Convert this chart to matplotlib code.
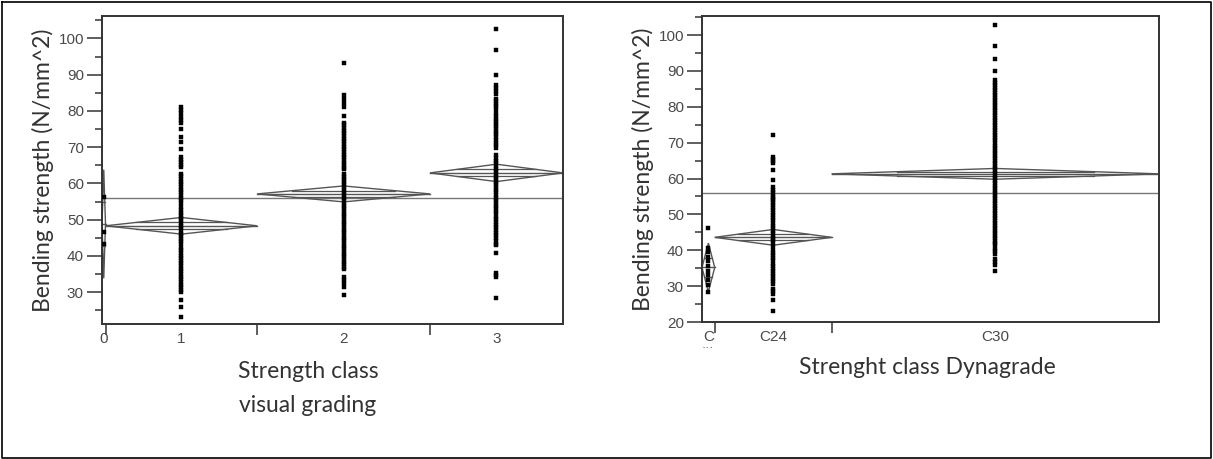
import numpy as np
import matplotlib
matplotlib.use("Agg")
import matplotlib.pyplot as plt
from matplotlib.patches import Polygon
from matplotlib.ticker import FixedLocator, MultipleLocator

# ---- data ----
visual_labels = ["0", "1", "2", "3"]
visual_sizes = [3, 130, 148, 114]
visual_0 = [56.3, 46.6, 43.4]
visual_1 = [81.1, 80.2, 79.3, 78.4, 77.5, 76.6, 74.9, 72.9, 71.5, 69.4,
            67.3, 66.5, 65.8, 65.2, 64.6,
            62.7, 62.0, 61.2, 60.5, 59.8, 59.0, 58.3, 57.5, 56.8, 56.1, 55.4, 54.7,
            53.4, 52.7, 51.9, 51.2, 50.5, 49.8, 49.0, 48.3, 47.6, 46.9, 46.1, 45.4,
            44.7, 44.0, 43.4,
            42.3, 41.6, 40.8, 40.1, 39.4, 38.6, 37.9, 37.2, 36.5, 35.7, 35.0, 34.3,
            33.6, 32.8, 32.1, 31.4, 30.7, 30.1,
            27.8, 25.9, 23.0]
visual_2 = [93.1, 84.4, 83.2, 82.1, 81.1, 78.6,
            76.7, 76.0, 75.2, 74.5, 73.8, 73.0, 72.3, 71.6, 70.8, 70.1, 69.4, 68.6,
            67.9, 67.2, 66.4, 65.7, 65.0, 64.3, 63.9,
            62.6, 61.9, 61.1, 60.4, 59.7, 58.9, 58.2, 57.5, 56.7, 56.0, 55.3, 54.5,
            53.8, 53.1, 52.3, 51.6, 50.9, 50.1, 49.4, 48.7, 47.9, 47.2, 46.5, 45.7,
            45.0, 44.3, 43.5, 42.8, 42.1, 41.3, 40.6, 39.9, 39.1, 38.4, 37.7, 36.9, 36.3,
            34.2, 33.3, 32.4, 31.3, 29.2]
visual_3 = [102.5, 96.8, 89.9,
            87.1, 86.3, 85.6, 84.8, 83.4, 82.7, 82.0, 81.3, 80.4,
            79.3, 78.6, 77.9, 77.1, 76.4, 75.8,
            74.9, 74.2, 73.5, 72.7, 72.0, 71.2, 70.5, 69.7,
            67.8, 67.1, 66.3, 65.6, 64.9, 64.1, 63.4, 62.7, 61.9, 61.2, 60.5, 59.7,
            59.0, 58.3, 57.5, 56.8, 56.1, 55.3, 54.6, 53.9, 53.1, 52.4, 51.7,
            50.8, 50.1, 49.3, 48.6, 47.9, 47.1, 46.4, 45.7,
            44.8, 44.1, 43.4, 43.0,
            40.7, 35.2, 34.6, 34.2, 28.3]
visual_means = [48.8, 48.3, 57.1, 62.9]
visual_ci = [15.0, 2.3, 2.2, 2.4]

dyna_labels = ["C", "C24", "C30"]
dyna_sizes = [11, 101, 283]
dyna_c = [46.3, 40.6, 39.4, 38.1, 36.9, 35.6, 34.2, 33.1, 31.8, 30.4, 28.3]
dyna_c24 = [72.0, 66.0, 65.4, 64.9, 64.3, 62.5, 59.5,
            57.6, 56.9, 56.2, 55.5, 54.8, 54.4,
            53.9, 53.2, 52.5, 51.8, 51.1, 50.4, 49.7, 49.0, 48.3, 47.6, 46.9, 46.2,
            45.5, 44.8, 44.1, 43.4, 42.8, 41.9, 41.1,
            40.0, 39.3, 38.6, 37.9, 37.2,
            36.3, 35.6, 34.9, 34.2, 33.5, 32.8, 32.1, 31.4, 30.7,
            29.3, 28.6, 27.9, 26.0, 23.1]
dyna_c30 = [102.7, 96.9, 93.2, 89.9,
            87.4, 86.7, 86.0, 85.3, 84.6, 83.9, 83.2, 82.5, 81.8, 81.1, 80.4, 79.7,
            79.0, 78.3, 77.6, 76.9, 76.2, 75.5, 74.8, 74.1, 73.4, 72.7, 72.0, 71.3,
            70.6, 69.9, 69.2, 68.5, 67.8, 67.1, 66.4, 65.7, 65.0, 64.3, 63.6, 62.9,
            62.2, 61.5, 60.8, 60.1, 59.4, 58.7, 58.0, 57.3, 56.6, 55.9, 55.2, 54.5,
            53.8, 53.1, 52.4, 51.7, 51.0, 50.3, 49.6, 48.9, 48.2, 47.5, 46.8, 46.1,
            45.4, 44.7, 44.0, 43.3, 42.6, 41.9, 41.4,
            40.4, 39.7, 38.9, 37.6, 36.7, 36.0, 34.1]
dyna_means = [35.2, 43.6, 61.3]
dyna_ci = [6.8, 2.2, 1.5]

grand_mean = 55.9

W, H = 1213, 459
fig = plt.figure(figsize=(W / 100, H / 100), dpi=100)

LINE = "#555555"
TXT = "#4a4a4a"
TITLE_FONT = "Lato"
TITLE_SIZE = 16.5


def px_axes(x0, y0, x1, y1):
    return fig.add_axes([x0 / W, 1 - y1 / H, (x1 - x0) / W, (y1 - y0) / H])


def oneway(ax, groups, sizes, labels, means, ci, ylim):
    edges = np.concatenate([[0], np.cumsum(sizes)])
    centers = (edges[:-1] + edges[1:]) / 2
    ax.set_xlim(0, edges[-1])
    ax.set_ylim(*ylim)

    ax.axhline(grand_mean, color="#777777", lw=1.0, zorder=1)

    for i, vals in enumerate(groups):
        a, b, c = edges[i], edges[i + 1], centers[i]
        m, h = means[i], ci[i]
        dia = Polygon([(a, m), (c, m + h), (b, m), (c, m - h)], closed=True,
                      fill=False, ec=LINE, lw=1.0, zorder=2)
        ax.add_patch(dia)
        ax.plot([a, b], [m, m], color=LINE, lw=1.0, zorder=2)
        d = 0.4
        inset = d * (b - a) / 2
        for s in (1, -1):
            ax.plot([a + inset, b - inset], [m + s * d * h, m + s * d * h],
                    color=LINE, lw=0.9, zorder=2)
        ax.plot(np.full(len(vals), c), vals, ls="none", marker="s", ms=2.6,
                mec="black", mfc="black", mew=0.3, zorder=3)

    ax.xaxis.set_major_locator(FixedLocator(edges[1:-1]))
    ax.xaxis.set_minor_locator(FixedLocator(centers))
    ax.set_xticklabels([])
    ax.set_xticklabels(labels, minor=True)
    ax.tick_params(axis="x", which="major", length=8, width=1.1, color="#333333",
                   direction="out")
    ax.tick_params(axis="x", which="minor", length=0, pad=6, labelsize=11,
                   labelcolor=TXT)

    ax.yaxis.set_major_locator(MultipleLocator(10))
    ax.yaxis.set_minor_locator(MultipleLocator(5))
    ax.tick_params(axis="y", which="major", length=11, width=1.1, color="#333333",
                   labelsize=11, labelcolor=TXT, pad=2)
    ax.tick_params(axis="y", which="minor", length=5, width=1.1, color="#333333")
    for sp in ax.spines.values():
        sp.set_color("#333333")
        sp.set_linewidth(1.4)
    for lab in ax.get_xticklabels(minor=True) + ax.get_yticklabels():
        lab.set_family("Liberation Sans")
    ax.set_ylabel("Bending strength (N/mm^2)", family=TITLE_FONT,
                  fontsize=TITLE_SIZE, color="#333333", labelpad=3)


ax1 = px_axes(102, 16, 563, 324)
oneway(ax1, [visual_0, visual_1, visual_2, visual_3], visual_sizes, visual_labels,
       visual_means, visual_ci, (21.2, 106.2))

ax2 = px_axes(702, 16, 1159, 322)
oneway(ax2, [dyna_c, dyna_c24, dyna_c30], dyna_sizes, dyna_labels,
       dyna_means, dyna_ci, (20, 105.3))
fig.text(708 / W, 1 - 348 / H, "···", ha="center", va="center", fontsize=9,
         color=TXT, family="Liberation Sans")

fig.text(308 / W, 1 - 372 / H, "Strength class", ha="center", va="center",
         family=TITLE_FONT, fontsize=TITLE_SIZE, color="#333333")
fig.text(308 / W, 1 - 405 / H, "visual grading", ha="center", va="center",
         family=TITLE_FONT, fontsize=TITLE_SIZE, color="#333333")
fig.text(927 / W, 1 - 367 / H, "Strenght class Dynagrade", ha="center", va="center",
         family=TITLE_FONT, fontsize=TITLE_SIZE, color="#333333")

# outer frame of the table cell
frame = plt.Line2D([2 / W, 2 / W, 1211 / W, 1211 / W, 2 / W],
                   [1 - 2 / H, 1 - 458 / H, 1 - 458 / H, 1 - 2 / H, 1 - 2 / H],
                   transform=fig.transFigure, color="black", lw=1.2)
fig.add_artist(frame)

fig.savefig("out.png", dpi=100)
